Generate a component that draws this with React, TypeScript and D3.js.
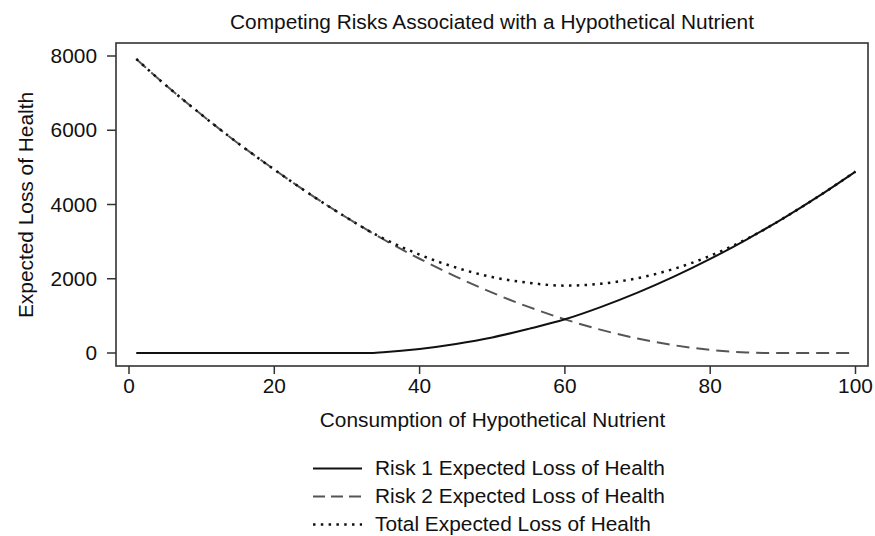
import React from "react";
import * as d3 from "d3";

const xs = [1, 5, 10, 15, 20, 25, 30, 33, 35, 40, 45, 50, 55, 60, 65, 70, 75, 80, 85, 88, 90, 95, 100];
const risk1 = [0, 0, 0, 0, 0, 0, 0, 0, 22, 110, 245, 420, 650, 907, 1243, 1626, 2056, 2534, 3057, 3388, 3620, 4232, 4887];
const risk2 = [7920, 7224, 6416, 5651, 4942, 4266, 3643, 3291, 3064, 2539, 2057, 1625, 1241, 907, 623, 390, 210, 83, 13, 0, 0, 0, 0];
const total = [7920, 7224, 6416, 5651, 4942, 4266, 3643, 3291, 3086, 2649, 2302, 2045, 1891, 1814, 1866, 2016, 2266, 2617, 3070, 3388, 3620, 4232, 4887];

const xTicks = [0, 20, 40, 60, 80, 100];
const yTicks = [0, 2000, 4000, 6000, 8000];

const title = "Competing Risks Associated with a Hypothetical Nutrient";
const xTitle = "Consumption of Hypothetical Nutrient";
const yTitle = "Expected Loss of Health";
const legendLabels = [
  "Risk 1 Expected Loss of Health",
  "Risk 2 Expected Loss of Health",
  "Total Expected Loss of Health",
];

const FONT = "'Liberation Sans', Arial, Helvetica, sans-serif";
const FS = 19.5;
const SX = 1.07;

function T({ x, y, anchor = "start", rotate = 0, children }: any) {
  return (
    <text
      transform={`translate(${x},${y}) rotate(${rotate}) scale(${SX},1)`}
      textAnchor={anchor}
      fontFamily={FONT}
      fontSize={FS}
      fill="#111"
    >
      {children}
    </text>
  );
}

export default function App() {
  const frame = { left: 116, right: 868, top: 43, bottom: 366 };
  const x = d3.scaleLinear().domain([0, 100]).range([129, 855.5]);
  const y = d3.scaleLinear().domain([0, 8000]).range([353, 56]);

  const mk = (vals: number[]) =>
    d3
      .line<number>()
      .x((_, i) => x(xs[i]))
      .y((v) => y(v))
      .curve(d3.curveMonotoneX)(vals) as string;

  const styles = [
    { vals: risk1, stroke: "#111", dash: undefined, width: 2 },
    { vals: risk2, stroke: "#555", dash: "13,7", width: 2 },
    { vals: total, stroke: "#111", dash: "2.5,5.3", width: 2.5 },
  ];

  const legendY = [468.5, 496.5, 524.5];
  const legendBase = [474.5, 502.5, 530.5];

  return (
    <svg
      width={875}
      height={536}
      style={{ position: "absolute", left: 0, top: 0, background: "#fff" }}
    >
      <rect x={0} y={0} width={875} height={536} fill="#fff" />
      <T x={492} y={28.5} anchor="middle">{title}</T>

      {[1, 0, 2].map((k) => (
        <path
          key={k}
          d={mk(styles[k].vals)}
          fill="none"
          stroke={styles[k].stroke}
          strokeWidth={styles[k].width}
          strokeDasharray={styles[k].dash}
        />
      ))}

      <rect
        x={frame.left}
        y={frame.top}
        width={frame.right - frame.left}
        height={frame.bottom - frame.top}
        fill="none"
        stroke="#333"
        strokeWidth={1.6}
      />

      {yTicks.map((t) => (
        <g key={"y" + t}>
          <line x1={107} x2={frame.left} y1={y(t)} y2={y(t)} stroke="#333" strokeWidth={1.5} />
          <T x={97} y={y(t) + 7} anchor="end">{t}</T>
        </g>
      ))}
      {xTicks.map((t) => (
        <g key={"x" + t}>
          <line x1={x(t)} x2={x(t)} y1={frame.bottom} y2={frame.bottom + 8} stroke="#333" strokeWidth={1.5} />
          <T x={x(t)} y={393} anchor="middle">{t}</T>
        </g>
      ))}

      <T x={492.5} y={426.5} anchor="middle">{xTitle}</T>
      <T x={33} y={205} anchor="middle" rotate={-90}>{yTitle}</T>

      {legendLabels.map((lab, i) => (
        <g key={lab}>
          <line
            x1={313}
            x2={362}
            y1={legendY[i]}
            y2={legendY[i]}
            stroke={styles[i].stroke}
            strokeWidth={styles[i].width}
            strokeDasharray={i === 1 ? "12,6" : styles[i].dash}
          />
          <T x={375} y={legendBase[i]}>{lab}</T>
        </g>
      ))}
    </svg>
  );
}
